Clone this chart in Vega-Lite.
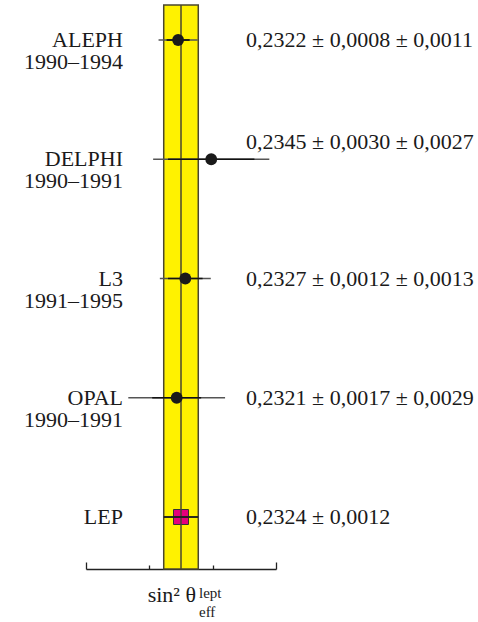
{
  "$schema": "https://vega.github.io/schema/vega-lite/v6.json",
  "autosize": {"type": "none"},
  "padding": {"left": 86, "top": 5, "right": 202, "bottom": 53},
  "width": 190,
  "height": 564,
  "background": "white",
  "config": {
    "view": {"stroke": null},
    "text": {"font": "Liberation Serif", "fontSize": 22, "color": "#1a1a1a"}
  },
  "data": {
    "values": [
      {"row": 1, "key": "ALEPH", "name": "ALEPH\n1990–1994", "value": 0.2322, "stat": 0.0008, "syst": 0.0011, "label": "0,2322 ± 0,0008 ± 0,0011"},
      {"row": 2, "key": "DELPHI", "name": "DELPHI\n1990–1991", "value": 0.2345, "stat": 0.0030, "syst": 0.0027, "label": "0,2345 ± 0,0030 ± 0,0027"},
      {"row": 3, "key": "L3", "name": "L3\n1991–1995", "value": 0.2327, "stat": 0.0012, "syst": 0.0013, "label": "0,2327 ± 0,0012 ± 0,0013"},
      {"row": 4, "key": "OPAL", "name": "OPAL\n1990–1991", "value": 0.2321, "stat": 0.0017, "syst": 0.0029, "label": "0,2321 ± 0,0017 ± 0,0029"},
      {"row": 5, "key": "LEP", "name": "LEP", "value": 0.2324, "stat": 0.0012, "syst": 0, "label": "0,2324 ± 0,0012"}
    ]
  },
  "transform": [
    {"calculate": "sqrt(datum.stat * datum.stat + datum.syst * datum.syst)", "as": "tot"},
    {"calculate": "datum.value - datum.stat", "as": "slo"},
    {"calculate": "datum.value + datum.stat", "as": "shi"},
    {"calculate": "datum.value - datum.tot", "as": "tlo"},
    {"calculate": "datum.value + datum.tot", "as": "thi"}
  ],
  "encoding": {
    "y": {
      "field": "row",
      "type": "quantitative",
      "scale": {"domain": [0.7065, 5.436], "reverse": true, "zero": false, "nice": false},
      "axis": null
    }
  },
  "layer": [
    {
      "transform": [{"filter": "datum.key === 'LEP'"}],
      "mark": {"type": "rect", "fill": "#fff200", "stroke": "#4a4731", "strokeWidth": 1.5},
      "encoding": {
        "y": null,
        "x": {
          "field": "slo",
          "type": "quantitative",
          "scale": {"domain": [0.2258, 0.239], "zero": false, "nice": false},
          "axis": {
            "values": [0.2258, 0.228, 0.2302, 0.2324, 0.2346, 0.2368, 0.239],
            "labels": false,
            "title": null,
            "grid": false,
            "domainColor": "#222222",
            "domainWidth": 1.5,
            "tickColor": "#222222",
            "tickWidth": 1.3,
            "tickSize": {"condition": {"test": "datum.value <= 0.2258 || datum.value >= 0.239", "value": -7}, "value": -4}
          }
        },
        "x2": {"field": "shi"}
      }
    },
    {
      "transform": [{"filter": "datum.key === 'LEP'"}],
      "mark": {"type": "point", "shape": "square", "filled": true, "size": 225, "fill": "#e4007c", "stroke": "#333333", "strokeWidth": 1, "opacity": 1},
      "encoding": {"x": {"field": "value", "type": "quantitative"}}
    },
    {
      "transform": [{"filter": "datum.key === 'LEP'"}],
      "mark": {"type": "rule", "color": "#4a4731", "strokeWidth": 1.5},
      "encoding": {"y": null, "x": {"field": "value", "type": "quantitative"}}
    },
    {
      "mark": {"type": "rule", "color": "#555555", "strokeWidth": 1.5},
      "encoding": {"x": {"field": "tlo", "type": "quantitative"}, "x2": {"field": "thi"}}
    },
    {
      "mark": {"type": "rule", "color": "#111111", "strokeWidth": 1.7},
      "encoding": {"x": {"field": "slo", "type": "quantitative"}, "x2": {"field": "shi"}}
    },
    {
      "transform": [{"filter": "datum.key !== 'LEP'"}],
      "mark": {"type": "point", "shape": "circle", "filled": true, "size": 140, "color": "#1a1a1a", "opacity": 1},
      "encoding": {"x": {"field": "value", "type": "quantitative"}}
    },
    {
      "mark": {"type": "text", "align": "right", "baseline": "middle", "lineBreak": "\n", "lineHeight": 22},
      "encoding": {"x": {"datum": 0.22837}, "text": {"field": "name"}}
    },
    {
      "transform": [{"filter": "datum.key !== 'DELPHI'"}],
      "mark": {"type": "text", "align": "left", "baseline": "middle"},
      "encoding": {"x": {"datum": 0.23692}, "text": {"field": "label"}}
    },
    {
      "transform": [{"filter": "datum.key === 'DELPHI'"}],
      "mark": {"type": "text", "align": "left", "baseline": "middle", "dy": -17},
      "encoding": {"x": {"datum": 0.23692}, "text": {"field": "label"}}
    },
    {
      "transform": [{"filter": "datum.key === 'LEP'"}],
      "mark": {"type": "text", "align": "right", "baseline": "alphabetic", "fontSize": 22},
      "encoding": {"x": {"datum": 0.23344}, "y": {"datum": 5.713}, "text": {"value": "sin² θ"}}
    },
    {
      "transform": [{"filter": "datum.key === 'LEP'"}],
      "mark": {"type": "text", "align": "left", "baseline": "alphabetic", "fontSize": 15},
      "encoding": {"x": {"datum": 0.23365}, "y": {"datum": 5.679}, "text": {"value": "lept"}}
    },
    {
      "transform": [{"filter": "datum.key === 'LEP'"}],
      "mark": {"type": "text", "align": "left", "baseline": "alphabetic", "fontSize": 15},
      "encoding": {"x": {"datum": 0.23365}, "y": {"datum": 5.839}, "text": {"value": "eff"}}
    }
  ]
}
